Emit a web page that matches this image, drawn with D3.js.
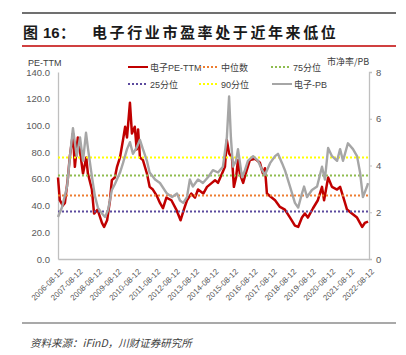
<!DOCTYPE html>
<html><head><meta charset="utf-8">
<script src="https://cdn.jsdelivr.net/npm/d3@7"></script>
<style>
body{margin:0;background:#fff;}
svg{display:block;font-family:"Liberation Sans","Noto Sans CJK SC",sans-serif;}
</style></head>
<body><svg id="c" width="406" height="355"></svg>
<script>
const peDates = ["2006-08-12","2006-09-15","2006-11-10","2006-12-20","2007-02-15","2007-03-20","2007-05-20","2007-06-25","2007-08-20","2007-09-25","2007-11-25","2008-01-25","2008-02-25","2008-05-10","2008-06-20","2008-08-25","2008-11-15","2008-12-25","2009-02-20","2009-04-15","2009-05-20","2009-07-15","2009-08-25","2009-10-20","2009-12-15","2010-01-25","2010-03-01","2010-04-25","2010-06-01","2010-07-25","2010-08-30","2010-09-25","2010-10-30","2010-12-25","2011-03-10","2011-04-30","2011-06-30","2011-09-15","2011-11-10","2012-01-05","2012-03-10","2012-06-12","2012-09-12","2012-12-01","2013-02-01","2013-04-01","2013-06-20","2013-08-30","2013-10-25","2014-02-01","2014-04-12","2014-07-12","2014-09-10","2014-11-05","2015-01-20","2015-03-15","2015-04-20","2015-06-01","2015-07-25","2015-08-30","2015-10-10","2015-11-15","2015-12-20","2016-02-20","2016-05-01","2016-06-25","2016-10-01","2017-01-01","2017-02-25","2017-04-05","2017-05-12","2017-07-10","2017-10-12","2018-01-12","2018-04-15","2018-07-20","2018-10-20","2018-12-20","2019-03-01","2019-04-25","2019-06-20","2019-09-25","2019-12-25","2020-03-12","2020-04-20","2020-07-05","2020-09-15","2020-12-20","2021-02-15","2021-04-10","2021-06-25","2021-09-25","2021-12-30","2022-04-05","2022-05-25","2022-07-25"];
const peValues = [61,44,40,42,61,76,94,69,91,82,64,76,64,52,34,37,27,24,29,44,59,61,69,76,89,99,91,117,94,99,82,97,76,74,64,54,52,47,42,38,46,44,37,29,37,44,49,46,52,49,54,57,59,57,64,69,89,79,76,54,61,74,64,57,67,74,75,72,64,68,49,47,44,39,37,31,25,24,31,34,31,38,44,54,44,61,54,52,54,47,37,34,31,24,27,28];

const pbDates = ["2006-08-12","2006-10-25","2007-01-30","2007-03-25","2007-05-20","2007-07-30","2007-09-30","2007-11-25","2008-01-20","2008-02-28","2008-05-12","2008-07-05","2008-08-30","2008-11-15","2009-01-12","2009-03-10","2009-05-20","2009-07-15","2009-10-20","2009-12-15","2010-03-01","2010-04-25","2010-06-20","2010-09-05","2010-10-30","2010-12-25","2011-03-10","2011-04-30","2011-08-10","2011-11-10","2012-03-20","2012-06-25","2012-09-25","2012-11-20","2013-01-20","2013-04-01","2013-05-25","2013-07-20","2013-10-25","2014-01-25","2014-04-30","2014-08-01","2014-11-05","2015-02-05","2015-04-20","2015-06-01","2015-07-05","2015-08-12","2015-10-10","2015-11-15","2016-01-30","2016-03-25","2016-05-20","2016-08-25","2016-11-25","2017-02-10","2017-04-05","2017-07-10","2017-10-12","2017-12-05","2018-02-20","2018-04-15","2018-07-20","2018-10-20","2018-12-20","2019-03-01","2019-04-10","2019-06-05","2019-09-05","2019-12-10","2020-03-12","2020-05-05","2020-07-05","2020-09-15","2020-12-20","2021-02-15","2021-04-10","2021-07-12","2021-10-15","2021-12-30","2022-02-25","2022-04-20","2022-07-05","2022-07-25"];
const pbValues = [1.8,2.2,3.1,4.4,5.6,4.4,5.2,4.2,5.4,4.7,3.5,2.7,2.2,1.95,1.8,2.1,2.95,3.2,3.7,4.1,4.7,5.0,4.5,4.8,5.1,4.7,4.2,3.7,3.4,3.25,2.8,2.65,2.8,2.5,2.4,2.65,3.4,3.1,3.4,3.25,3.5,3.8,3.7,3.95,5.2,6.95,5.2,3.95,4.2,4.7,3.5,3.8,4.2,4.4,4.2,3.8,3.6,4.1,4.4,4.5,4.1,3.8,3.1,2.4,2.2,2.8,3.1,2.65,2.95,3.1,3.95,3.4,4.75,4.4,4.2,4.7,4.2,4.95,4.7,4.4,3.7,2.65,3.1,3.25];

const refNames = ["中位数","75分位","25分位","90分位"];
const refValues = [47.5, 62.5, 35.5, 76];
const refColors = ["#ed7d31","#8fbc4f","#5b4a9e","#ffff00"];

const xTickLabels = ["2006-08-12","2007-08-12","2008-08-12","2009-08-12","2010-08-12","2011-08-12","2012-08-12","2013-08-12","2014-08-12","2015-08-12","2016-08-12","2017-08-12","2018-08-12","2019-08-12","2020-08-12","2021-08-12","2022-08-12"];
const leftTicks = [0,20,40,60,80,100,120,140];
const rightTicks = [0,2,4,6,8];

const parse = d3.timeParse("%Y-%m-%d");
const svg = d3.select("#c");

// header / footer rules
svg.append("line").attr("x1",22).attr("x2",396).attr("y1",13).attr("y2",13).attr("stroke","#404040").attr("stroke-width",1.3);
svg.append("line").attr("x1",22).attr("x2",396).attr("y1",46).attr("y2",46).attr("stroke","#c00000").attr("stroke-width",1.3);
svg.append("line").attr("x1",22).attr("x2",396).attr("y1",323).attr("y2",323).attr("stroke","#8c8c8c").attr("stroke-width",1.3);

const tg = svg.append("g").attr("font-weight","bold").attr("font-size",15).attr("fill","#1a1a1a").attr("font-family","'Noto Sans CJK SC',sans-serif");
tg.append("text").attr("x",23).attr("y",38).text("图");
tg.append("text").attr("x",43).attr("y",38).attr("font-family","'Liberation Sans',sans-serif").text("16");
tg.append("text").attr("x",60).attr("y",38).text("：");
tg.append("text").attr("x",92).attr("y",38).attr("letter-spacing",2.6).text("电子行业市盈率处于近年来低位");

svg.append("text").attr("x",30).attr("y",347).attr("font-size",10.5).attr("font-style","italic").attr("fill","#404040")
  .attr("font-family","'Noto Sans CJK SC',sans-serif").text("资料来源：iFinD，川财证券研究所");

// scales
const x = d3.scaleTime().domain([parse("2006-08-12"), parse("2022-08-12")]).range([58, 369]);
const yL = d3.scaleLinear().domain([0,140]).range([259,72]);
const yR = d3.scaleLinear().domain([0,8]).range([259,72]);

const axisColor = "#bfbfbf";
// left axis
const la = svg.append("g").attr("transform","translate(58,0)")
  .call(d3.axisLeft(yL).tickValues(leftTicks).tickSize(0).tickPadding(8).tickFormat(d3.format(".1f")));
la.select(".domain").attr("stroke",axisColor).attr("stroke-width",1.3);
la.selectAll("text").attr("font-size",9.5).attr("fill","#595959").attr("font-family","'Liberation Sans',sans-serif");

// right axis
const ra = svg.append("g").attr("transform","translate(369,0)")
  .call(d3.axisRight(yR).tickValues(rightTicks).tickSize(3).tickPadding(4).tickFormat(d3.format("d")));
ra.select(".domain").attr("stroke",axisColor).attr("stroke-width",1.3);
ra.selectAll(".tick line").attr("stroke",axisColor);
ra.selectAll("text").attr("font-size",9.5).attr("fill","#595959").attr("font-family","'Liberation Sans',sans-serif");

// bottom axis
const ba = svg.append("g").attr("transform","translate(0,259)")
  .call(d3.axisBottom(x).tickValues(xTickLabels.map(parse)).tickSize(0).tickFormat((d,i)=>xTickLabels[i]));
ba.select(".domain").attr("stroke",axisColor).attr("stroke-width",1.3);
ba.selectAll("text").attr("font-size",8).attr("fill","#595959").attr("font-family","'Liberation Sans',sans-serif")
  .attr("text-anchor","end").attr("dy",0).attr("transform","translate(3,11) rotate(-45)");

svg.append("text").attr("x",28).attr("y",66).attr("font-size",9).attr("fill","#404040").text("PE-TTM");
svg.append("text").attr("x",327).attr("y",65).attr("font-size",9).attr("fill","#404040").attr("font-family","'Noto Sans CJK SC',sans-serif").text("市净率/PB");

// series
const pe = peDates.map((d,i)=>({d:parse(d),v:peValues[i]}));
const pb = pbDates.map((d,i)=>({d:parse(d),v:pbValues[i]}));
const lineL = d3.line().x(p=>x(p.d)).y(p=>yL(p.v));
const lineR = d3.line().x(p=>x(p.d)).y(p=>yR(p.v));

svg.append("path").datum(pe).attr("d",lineL).attr("fill","none").attr("stroke","#c00000").attr("stroke-width",2.5).attr("stroke-linejoin","round");

const xEnd = pe[pe.length-1].d;
refValues.forEach((v,i)=>{
  svg.append("line").attr("x1",x(pe[0].d)).attr("x2",x(xEnd)).attr("y1",yL(v)).attr("y2",yL(v))
    .attr("stroke",refColors[i]).attr("stroke-width",2).attr("stroke-dasharray","2,2");
});

svg.append("path").datum(pb).attr("d",lineR).attr("fill","none").attr("stroke","#a6a6a6").attr("stroke-width",2.4).attr("stroke-linejoin","round");

// legend
const leg = [
  {name:"电子PE-TTM", color:"#c00000", dash:null, x:128, y:67},
  {name:refNames[0], color:refColors[0], dash:"2,2", x:199, y:67},
  {name:refNames[1], color:refColors[1], dash:"2,2", x:271, y:67},
  {name:refNames[2], color:refColors[2], dash:"2,2", x:128, y:84},
  {name:refNames[3], color:refColors[3], dash:"2,2", x:199, y:84},
  {name:"电子-PB", color:"#a6a6a6", dash:null, x:272, y:84}
];
const lg = svg.append("g");
leg.forEach(l=>{
  lg.append("line").attr("x1",l.x).attr("x2",l.x+20).attr("y1",l.y).attr("y2",l.y).attr("stroke",l.color)
    .attr("stroke-width",2).attr("stroke-dasharray",l.dash);
  lg.append("text").attr("x",l.x+22).attr("y",l.y+3.5).attr("font-size",9).attr("fill","#404040")
    .attr("font-family","'Liberation Sans','Noto Sans CJK SC',sans-serif").text(l.name);
});
</script></body></html>
